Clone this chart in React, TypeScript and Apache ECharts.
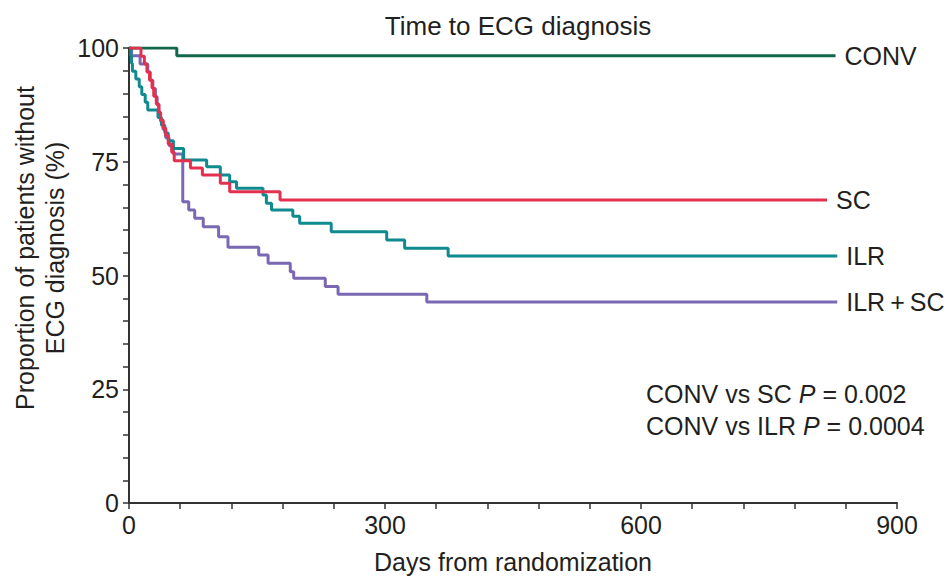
import React, { useEffect, useRef } from "react";
import * as echarts from "echarts";

const seriesNames = ["CONV", "SC", "ILR", "ILR\u2009+\u2009SC"];
const seriesColors = ["#12694a", "#e3304f", "#0f8a8f", "#7a68b2"];

const convData: [number, number][] = [
  [0, 100], [56, 98.3], [828, 98.3],
];

const scData: [number, number][] = [
  [0, 100], [14, 98.2], [18, 96.5], [21, 94.7], [24, 92.9], [27, 91.2], [29, 89.4],
  [32, 87.7], [35, 85.9], [37, 84.2], [40, 82.4], [43, 80.7], [46, 78.9], [50, 77.1],
  [53, 75.2], [72, 73.6], [86, 72.1], [107, 70.3], [118, 68.4], [177, 66.6], [818, 66.6],
];

const ilrData: [number, number][] = [
  [0, 100], [2, 98.3], [3, 96.6], [4, 94.9], [8, 93.2], [12, 91.5], [15, 89.8],
  [19, 88.1], [22, 86.4], [34, 84.7], [38, 83.0], [42, 81.3], [46, 79.6], [52, 77.9],
  [64, 75.4], [91, 73.9], [107, 72.1], [118, 70.6], [126, 69.2], [157, 67.7],
  [161, 65.9], [167, 64.4], [192, 63.0], [200, 61.5], [237, 59.6], [302, 57.8],
  [323, 56.0], [374, 54.3], [830, 54.3],
];

const ilrScData: [number, number][] = [
  [0, 100], [3, 98.3], [13, 96.5], [22, 94.7], [25, 92.9], [28, 91.1], [31, 89.3],
  [33, 87.5], [35, 85.7], [37, 83.9], [40, 82.1], [43, 80.3], [47, 78.5], [52, 76.7],
  [63, 66.2], [70, 64.4], [77, 62.6], [87, 60.7], [105, 58.5], [116, 56.2],
  [152, 54.5], [163, 52.7], [189, 50.8], [193, 49.4], [230, 47.6], [245, 45.9],
  [349, 44.2], [830, 44.2],
];

const allData = [convData, scData, ilrData, ilrScData];

const xTicks = { min: 0, max: 900, interval: 300 };
const yTicks = { min: 0, max: 100, interval: 25 };

const titleText = "Time to ECG diagnosis";
const xAxisTitle = "Days from randomization";
const yAxisTitle = "Proportion of patients without\nECG diagnosis (%)";
const pTexts = ["CONV vs SC {p|P} = 0.002", "CONV vs ILR {p|P} = 0.0004"];

const FONT = "Liberation Sans, Arial, Helvetica, sans-serif";
const TXT = "#231f20";
const FS = 25;

export default function App() {
  const ref = useRef<HTMLDivElement>(null);
  useEffect(() => {
    if (!ref.current) return;
    const chart = echarts.init(ref.current, null, { renderer: "svg" });
    const axisLine = { lineStyle: { color: "#333", width: 2 } };
    const tickStyle = { color: "#333", width: 1.5 };
    chart.setOption({
      animation: false,
      backgroundColor: "#fff",
      textStyle: { fontFamily: FONT },
      title: {
        text: titleText,
        left: 513,
        top: 8,
        textAlign: "center",
        textStyle: { fontFamily: FONT, fontSize: 26, fontWeight: "normal", color: TXT },
      },
      grid: {
        left: 129,
        top: 48,
        width: 768,
        height: 455,
        containLabel: false,
        outerBoundsMode: "none",
      },
      xAxis: {
        type: "value",
        min: xTicks.min,
        max: xTicks.max,
        interval: xTicks.interval,
        name: xAxisTitle,
        nameLocation: "middle",
        nameGap: 46,
        nameTextStyle: { fontFamily: FONT, fontSize: FS, color: TXT },
        axisLine: { show: true, ...axisLine },
        axisTick: { show: true, length: 6, inside: false, lineStyle: tickStyle },
        minorTick: { show: true, splitNumber: 5, length: 6, lineStyle: tickStyle },
        axisLabel: { fontFamily: FONT, fontSize: FS, color: TXT, margin: 9 },
        splitLine: { show: false },
      },
      yAxis: {
        type: "value",
        min: yTicks.min,
        max: yTicks.max,
        interval: yTicks.interval,
        axisLine: { show: true, ...axisLine },
        axisTick: { show: true, length: 6, inside: false, lineStyle: tickStyle },
        minorTick: { show: true, splitNumber: 5, length: 6, lineStyle: tickStyle },
        axisLabel: { fontFamily: FONT, fontSize: FS, color: TXT, margin: 10 },
        splitLine: { show: false },
      },
      series: seriesNames.map((name, i) => ({
        name,
        type: "line",
        step: "end",
        data: allData[i],
        showSymbol: false,
        symbol: "none",
        lineStyle: { color: seriesColors[i], width: 3 },
        itemStyle: { color: seriesColors[i] },
        z: i === 0 ? 5 : 6 - i,
        endLabel: {
          show: true,
          formatter: name,
          distance: 9,
          fontFamily: FONT,
          fontSize: FS,
          color: TXT,
        },
      })),
      graphic: [
        {
          type: "text",
          x: 40,
          y: 248,
          rotation: Math.PI / 2,
          style: {
            text: yAxisTitle,
            fontFamily: FONT,
            fontSize: FS,
            lineHeight: 30,
            fill: TXT,
            textAlign: "center",
            textVerticalAlign: "middle",
          },
        },
        ...pTexts.map((t, i) => ({
          type: "text",
          x: 646,
          y: 394 + i * 32,
          style: {
            text: t,
            fontFamily: FONT,
            fontSize: FS,
            fill: TXT,
            textAlign: "left",
            textVerticalAlign: "middle",
            rich: {
              p: { fontFamily: FONT, fontSize: FS, fontStyle: "italic", fill: TXT },
            },
          },
        })),
      ],
    });
    return () => chart.dispose();
  }, []);
  return (
    <div
      ref={ref}
      style={{ position: "fixed", left: 0, top: 0, width: 944, height: 577 }}
    />
  );
}
